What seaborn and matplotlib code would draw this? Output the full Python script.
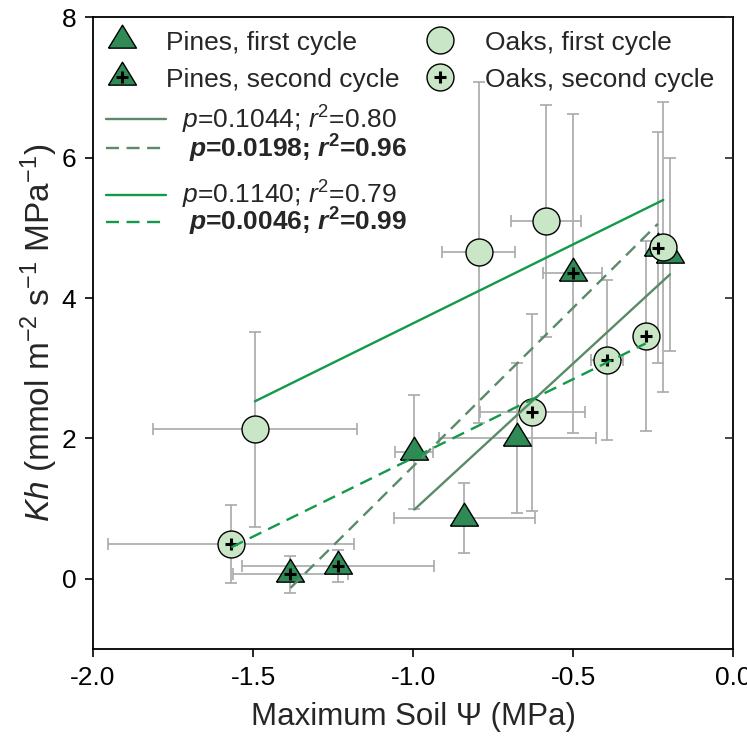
import numpy as np
import pandas as pd
import matplotlib
matplotlib.use("Agg")
import matplotlib.pyplot as plt
import seaborn as sns
from matplotlib.lines import Line2D

# Maximum soil water potential (MPa) vs. hydraulic conductance Kh, means with SE
pines1_x = [-0.996, -0.840, -0.674, -0.197]
pines1_y = [1.805, 0.865, 2.01, 4.62]
pines1_xerr = [0.06, 0.22, 0.245, 0.01]
pines1_yerr = [0.815, 0.495, 1.07, 1.38]

pines2_x = [-1.383, -1.234, -0.501, -0.235]
pines2_y = [0.065, 0.185, 4.355, 4.72]
pines2_xerr = [0.18, 0.30, 0.092, 0.01]
pines2_yerr = [0.265, 0.225, 2.275, 1.64]

oaks1_x = [-1.494, -0.795, -0.585, -0.218]
oaks1_y = [2.13, 4.65, 5.095, 4.725]
oaks1_xerr = [0.32, 0.115, 0.11, 0.01]
oaks1_yerr = [1.39, 2.43, 1.655, 2.065]

oaks2_x = [-1.568, -0.627, -0.393, -0.273]
oaks2_y = [0.495, 2.375, 3.12, 3.455]
oaks2_xerr = [0.384, 0.165, 0.05, 0.01]
oaks2_yerr = [0.555, 1.405, 1.14, 1.355]

group_labels = ["Pines, first cycle", "Pines, second cycle",
                "Oaks, first cycle", "Oaks, second cycle"]
fit_labels = [r"$p$=0.1044; $r^2$=0.80",
              r" $\mathbfit{p}$=0.0198; $\mathbfit{r}^{\mathbf{2}}$=0.96",
              r"$p$=0.1140; $r^2$=0.79",
              r" $\mathbfit{p}$=0.0046; $\mathbfit{r}^{\mathbf{2}}$=0.99"]

x_ticks = [-2.0, -1.5, -1.0, -0.5, 0.0]
y_ticks = [0, 2, 4, 6, 8]

sns.set_style("ticks")
plt.rcParams["font.family"] = ["Liberation Sans", "DejaVu Sans"]
plt.rcParams["mathtext.fontset"] = "custom"
plt.rcParams["mathtext.rm"] = "Liberation Sans"
plt.rcParams["mathtext.it"] = "Liberation Sans:italic"
plt.rcParams["mathtext.bf"] = "Liberation Sans:bold"
plt.rcParams["mathtext.bfit"] = "Liberation Sans:italic:bold"
plt.rcParams["axes.unicode_minus"] = False

PINE_FILL = "#2f8a56"
OAK_FILL = "#c9e6c6"
PINE_LINE = "#5b8a68"
OAK_LINE = "#12994a"
ERR = "#a9a9a9"

# triangle with its centroid on the data point
h = 1.64
TRI = [(-1.0, -h / 3), (1.0, -h / 3), (0.0, 2 * h / 3), (-1.0, -h / 3)]
TRI_MS = 22.0
CIRC_MS = 19.4

def frame(x, y, xerr, yerr, group):
    return pd.DataFrame({"x": x, "y": y, "xerr": xerr, "yerr": yerr, "group": group})

df = pd.concat([
    frame(pines1_x, pines1_y, pines1_xerr, pines1_yerr, group_labels[0]),
    frame(pines2_x, pines2_y, pines2_xerr, pines2_yerr, group_labels[1]),
    frame(oaks1_x, oaks1_y, oaks1_xerr, oaks1_yerr, group_labels[2]),
    frame(oaks2_x, oaks2_y, oaks2_xerr, oaks2_yerr, group_labels[3]),
], ignore_index=True)

fig = plt.figure(figsize=(7.47, 7.45), dpi=100)
ax = fig.add_axes([0.1245, 0.1289, 0.8568, 0.8478])

# error bars underneath everything
ax.errorbar(df["x"], df["y"], xerr=df["xerr"], yerr=df["yerr"], fmt="none",
            ecolor=ERR, elinewidth=1.2, capsize=4.4, capthick=1.2, zorder=1)

style = {
    group_labels[0]: dict(marker=TRI, s=TRI_MS ** 2, color=PINE_FILL, plus=False),
    group_labels[1]: dict(marker=TRI, s=TRI_MS ** 2, color=PINE_FILL, plus=True),
    group_labels[2]: dict(marker="o", s=CIRC_MS ** 2, color=OAK_FILL, plus=False),
    group_labels[3]: dict(marker="o", s=CIRC_MS ** 2, color=OAK_FILL, plus=True),
}
for name, st in style.items():
    sub = df[df["group"] == name]
    sns.scatterplot(data=sub, x="x", y="y", marker=st["marker"], s=st["s"],
                    color=st["color"], edgecolor="black", linewidth=1.0,
                    zorder=3, ax=ax, legend=False)
    if st["plus"]:
        ax.plot(sub["x"], sub["y"], ls="none", marker="+", ms=9, mew=2.2,
                color="black", zorder=4)

# linear fits for each group, limited to the range of the data
fits = [
    (group_labels[0], PINE_LINE, "-"),
    (group_labels[1], PINE_LINE, "--"),
    (group_labels[2], OAK_LINE, "-"),
    (group_labels[3], OAK_LINE, "--"),
]
for name, col, ls in fits:
    sub = df[df["group"] == name]
    kws = dict(color=col, lw=1.7, zorder=5)
    if ls == "--":
        kws["dashes"] = (5.5, 3.2)
    sns.regplot(data=sub, x="x", y="y", ci=None, scatter=False, truncate=True,
                line_kws=kws, ax=ax)

ax.set_xlim(-2.0, 0.0)
ax.set_ylim(-1.0, 8.0)
ax.set_xticks(x_ticks)
ax.set_xticklabels([f"{t:.1f}" for t in x_ticks])
ax.set_yticks(y_ticks)
ax.tick_params(axis="both", direction="out", length=6, width=1.2,
               labelsize=19, colors="black", pad=6)
for sp in ax.spines.values():
    sp.set_linewidth(1.3)
    sp.set_color("black")
    sp.set_visible(True)

# inward ticks on the right spine
axr = ax.twinx()
axr.set_ylim(ax.get_ylim())
axr.set_yticks(y_ticks)
axr.tick_params(axis="y", direction="in", length=6, width=1.2, labelright=False)
for sp in axr.spines.values():
    sp.set_visible(False)

ax.set_xlabel("Maximum Soil \u03a8 (MPa)", fontsize=22.5, labelpad=9)
ax.set_ylabel(r"$Kh$ (mmol m$^{-2}$ s$^{-1}$ MPa$^{-1}$)", fontsize=24, labelpad=1)

# legends
def mk(marker, ms, fc):
    return Line2D([], [], ls="none", marker=marker, ms=ms, mfc=fc, mec="black", mew=1.0)

plus = Line2D([], [], ls="none", marker="+", ms=9, mew=2.2, color="black")
handles = [mk(TRI, TRI_MS, PINE_FILL), (mk(TRI, TRI_MS, PINE_FILL), plus),
           mk("o", CIRC_MS, OAK_FILL), (mk("o", CIRC_MS, OAK_FILL), plus)]
leg1 = ax.legend(handles, group_labels, ncol=2, loc="upper left",
                 bbox_to_anchor=(0.02, 0.979), frameon=False, fontsize=19,
                 handlelength=1.2, handletextpad=1.1, columnspacing=0.92,
                 labelspacing=0.49, borderpad=0, borderaxespad=0)
ax.add_artist(leg1)

pine_lines = [Line2D([], [], color=PINE_LINE, lw=1.7),
              Line2D([], [], color=PINE_LINE, lw=1.7, dashes=(5.5, 3.2))]
oak_lines = [Line2D([], [], color=OAK_LINE, lw=1.7),
             Line2D([], [], color=OAK_LINE, lw=1.7, dashes=(5.5, 3.2))]
leg2 = ax.legend(pine_lines, fit_labels[:2], loc="upper left",
                 bbox_to_anchor=(0.02, 0.863), frameon=False, fontsize=19,
                 handlelength=2.3, handletextpad=0.6, labelspacing=-0.13,
                 borderpad=0, borderaxespad=0)
leg2.get_texts()[1].set_fontweight("bold")
ax.add_artist(leg2)
leg3 = ax.legend(oak_lines, fit_labels[2:], loc="upper left",
                 bbox_to_anchor=(0.02, 0.744), frameon=False, fontsize=19,
                 handlelength=2.3, handletextpad=0.6, labelspacing=-0.2,
                 borderpad=0, borderaxespad=0)
leg3.get_texts()[1].set_fontweight("bold")

fig.savefig("out.png", dpi=100)
